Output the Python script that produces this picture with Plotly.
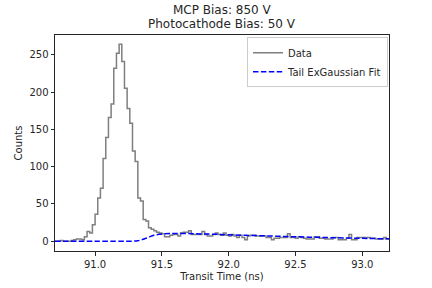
import plotly.graph_objects as go

# Histogram: bin edges 90.70 .. 93.20 in 0.02 ns steps (125 bins)
bin_start = 90.70
bin_width = 0.02
counts = [0, 0, 1, 0, 0, 0, 1, 2, 3, 3,
          2, 6, 13, 11, 22, 36, 58, 71, 111, 139,
          166, 184, 232, 252, 264, 241, 205, 178, 158, 121,
          107, 58, 54, 29, 27, 18, 16, 14, 12, 11,
          10, 6, 6, 8, 9, 9, 7, 11, 12, 12,
          14, 9, 9, 9, 9, 13, 9, 7, 7, 9,
          11, 9, 8, 11, 8, 7, 9, 7, 5, 8,
          5, 2, 7, 8, 8, 7, 7, 7, 7, 5,
          5, 2, 4, 4, 5, 5, 5, 10, 5, 5,
          4, 6, 5, 4, 3, 3, 3, 6, 6, 4,
          4, 3, 3, 3, 5, 5, 2, 2, 2, 4,
          9, 2, 2, 5, 5, 5, 5, 5, 4, 4,
          3, 3, 3, 5, 3]

# Tail ExGaussian fit
fit_x = [90.70, 91.00, 91.28, 91.32, 91.36, 91.40, 91.44, 91.48, 91.52, 91.56,
         91.60, 91.70, 91.80, 91.90, 92.00, 92.20, 92.40, 92.60, 92.80, 93.00, 93.20]
fit_y = [0.0, 0.0, 0.0, 0.6, 2.5, 5.2, 7.8, 9.3, 10.0, 10.3,
         10.4, 10.2, 9.7, 9.2, 8.6, 7.5, 6.4, 5.4, 4.5, 3.8, 3.1]

x_ticks = [91.0, 91.5, 92.0, 92.5, 93.0]
y_ticks = [0, 50, 100, 150, 200, 250]

title_lines = ["MCP Bias: 850 V", "Photocathode Bias: 50 V"]

edges = [bin_start + bin_width * i for i in range(len(counts) + 1)]
step_y = counts + [counts[-1]]

fig = go.Figure()
fig.add_trace(go.Scatter(
    x=edges, y=step_y, mode="lines", line_shape="hv",
    line=dict(color="#7f7f7f", width=1.5), name="Data"))
fig.add_trace(go.Scatter(
    x=fit_x, y=fit_y, mode="lines", line_shape="spline",
    line=dict(color="#0000ff", width=1.5, dash="5.5px,2.4px"),
    name="Tail ExGaussian Fit"))

axis_common = dict(
    showgrid=False, zeroline=False, showline=True, linecolor="#262626",
    linewidth=1, mirror=True, ticks="outside", ticklen=3.5, tickwidth=0.8,
    tickcolor="#262626", tickfont=dict(size=10, color="#262626"),
    automargin=False,
)

plot_top, plot_h = 35.0, 216.0
annots = []
for line, page_y in zip(title_lines, [10.5, 24.5]):
    annots.append(dict(
        text=line, xref="paper", yref="paper", x=0.5,
        y=1 + (plot_top - page_y) / plot_h, xanchor="center", yanchor="middle",
        showarrow=False, font=dict(size=12, color="#262626")))

fig.update_layout(
    width=432, height=288,
    margin=dict(l=55, r=43, t=35, b=37),
    paper_bgcolor="white", plot_bgcolor="white",
    font=dict(family="DejaVu Sans", color="#262626", size=10),
    annotations=annots,
    xaxis=dict(range=[90.70, 93.20], tickvals=x_ticks,
               ticktext=[f"{v:.1f}" for v in x_ticks],
               title=dict(text="Transit Time (ns)", standoff=4,
                          font=dict(size=10)), **axis_common),
    yaxis=dict(range=[-13.2, 276.5], tickvals=y_ticks,
               title=dict(text="Counts", standoff=4, font=dict(size=10)),
               **axis_common),
    legend=dict(x=0.997, y=0.99, xanchor="right", yanchor="top",
                bgcolor="rgba(255,255,255,0.8)", bordercolor="#cccccc",
                borderwidth=1, font=dict(size=10, color="#262626"),
                tracegroupgap=0, itemwidth=30),
    showlegend=True,
)

fig.write_html("out.html",
               config={"displayModeBar": False},
               post_script="document.body.style.margin='0';")
